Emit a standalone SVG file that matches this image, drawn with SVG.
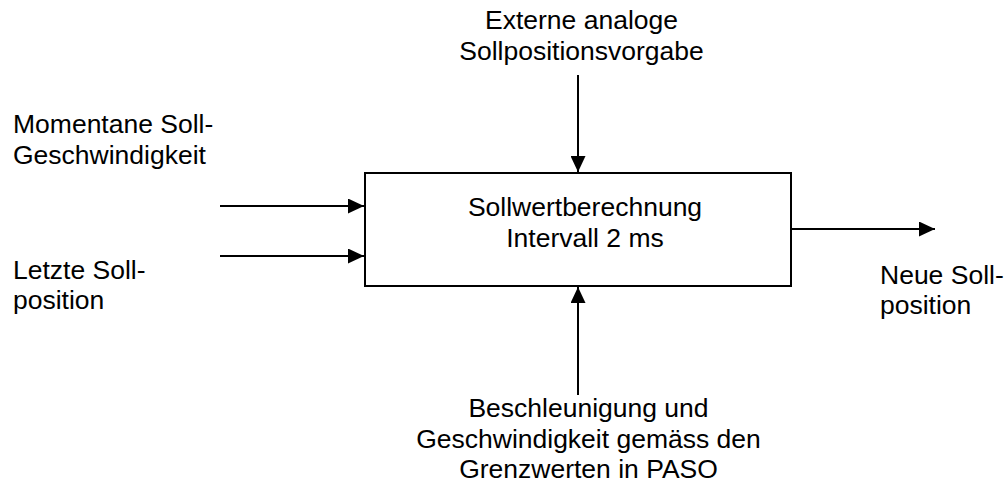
<svg xmlns="http://www.w3.org/2000/svg" width="1004" height="484" viewBox="0 0 1004 484">
  <style>
    text { font-family: "Liberation Sans", Arial, sans-serif; font-size: 26.5px; fill: #000; }
    .c { text-anchor: middle; }
    .box { fill: #fff; stroke: #000; stroke-width: 2; }
    .conn { stroke: #000; stroke-width: 2; fill: none; marker-end: url(#arrow); }
  </style>
  <defs>
    <marker id="arrow" markerUnits="userSpaceOnUse" markerWidth="16" markerHeight="15" refX="16" refY="7.5" orient="auto">
      <path d="M0,0 L16,7.5 L0,15 z" fill="#000"/>
    </marker>
  </defs>
  <rect width="1004" height="484" fill="#fff"/>

  <g id="connectors">
    <line class="conn" x1="578" y1="75" x2="578" y2="172"/>
    <line class="conn" x1="578" y1="395" x2="578" y2="287"/>
    <line class="conn" x1="220" y1="206" x2="364" y2="206"/>
    <line class="conn" x1="220" y1="256" x2="364" y2="256"/>
    <line class="conn" x1="792" y1="229" x2="935" y2="229"/>
  </g>

  <g id="node-main">
    <rect class="box" x="365" y="173" width="426" height="113"/>
    <text class="c" x="585" y="215.5">Sollwertberechnung</text>
    <text class="c" x="585" y="247">Intervall 2 ms</text>
  </g>

  <g id="label-top">
    <text class="c" x="581.5" y="28.5">Externe analoge</text>
    <text class="c" x="581.5" y="59.5">Sollpositionsvorgabe</text>
  </g>

  <g id="label-speed">
    <text x="13" y="132.5">Momentane Soll-</text>
    <text x="13" y="163.5">Geschwindigkeit</text>
  </g>

  <g id="label-lastpos">
    <text x="13" y="278.5">Letzte Soll-</text>
    <text x="13" y="309">position</text>
  </g>

  <g id="label-newpos">
    <text x="880" y="283.5">Neue Soll-</text>
    <text x="880" y="314">position</text>
  </g>

  <g id="label-bottom">
    <text class="c" x="588.5" y="416.5">Beschleunigung und</text>
    <text class="c" x="588.5" y="447.5">Geschwindigkeit gemäss den</text>
    <text class="c" x="588.5" y="478">Grenzwerten in PASO</text>
  </g>
</svg>
